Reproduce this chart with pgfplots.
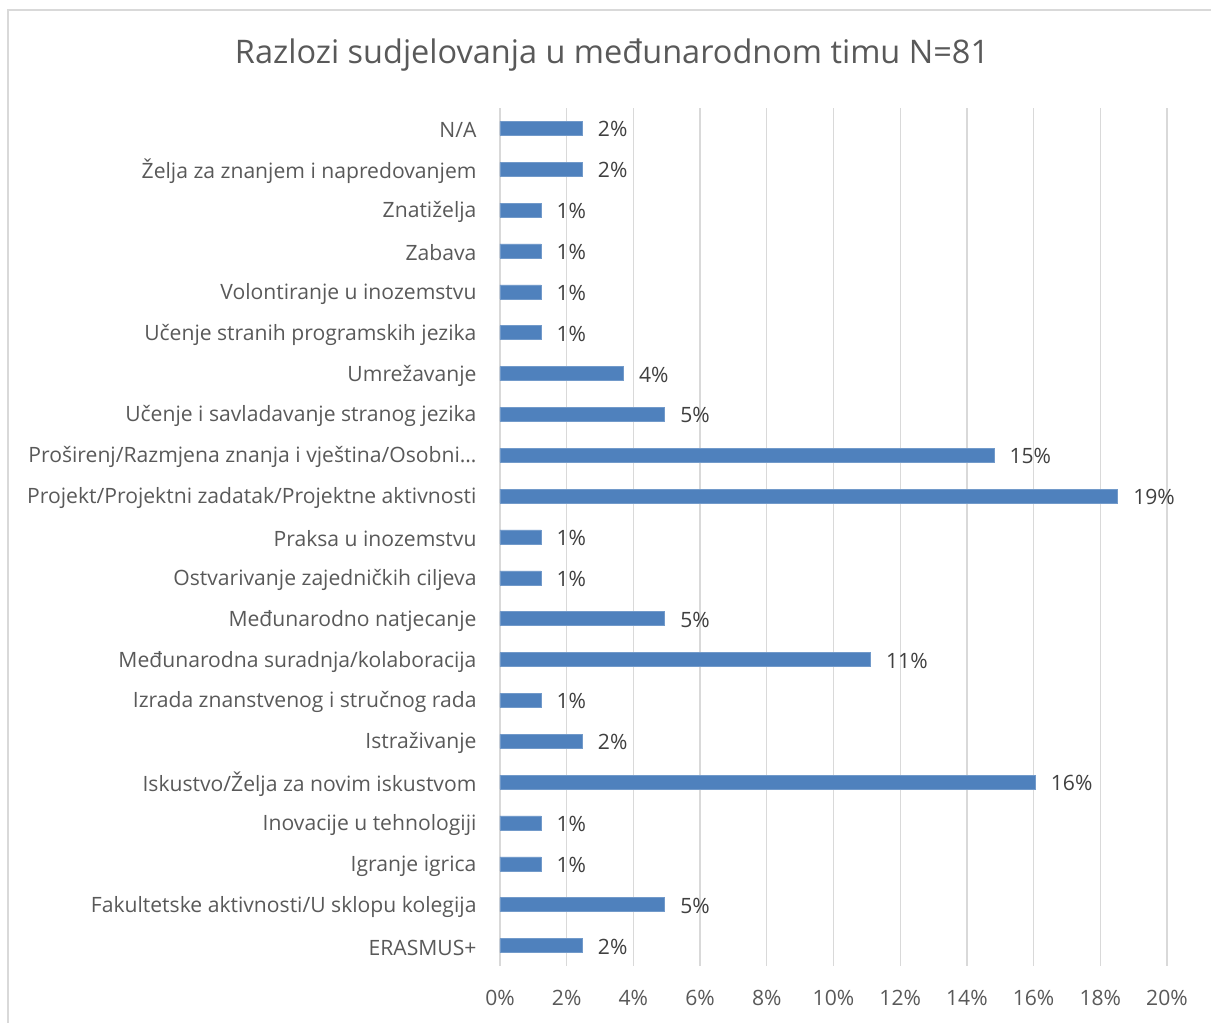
\documentclass[border=0pt]{standalone}
\usepackage{pgfplots}
\pgfplotsset{compat=1.18}
\usepackage{fontspec}
\setmainfont{Open Sans}
\definecolor{barblue}{RGB}{79,129,189}
\definecolor{txt}{RGB}{89,89,89}
\definecolor{lbl}{RGB}{64,64,64}
\definecolor{gridc}{RGB}{217,217,217}
\begin{document}
\begin{tikzpicture}[x=1bp,y=1bp]
\useasboundingbox (-500,-57) rectangle (711,966);
\draw[gridc, line width=1.5bp] (-492,-80) rectangle (730,956);
\node[txt, font=\fontsize{32.6}{38}\selectfont] at (112,911) {Razlozi sudjelovanja u međunarodnom timu N=81};
\begin{axis}[
  at={(0,0)}, anchor=south west,
  scale only axis, width=667bp, height=858bp,
  xbar, bar width=14bp,
  xmin=0, xmax=20, ymin=-0.5, ymax=20.5,
  axis line style={draw=none},
  major tick length=0pt,
  xmajorgrids, grid style={gridc, line width=1.3bp},
  xtick={0,2,...,20},
  xticklabel={\pgfmathprintnumber{\tick}\%},
  /pgf/number format/assume math mode=true,
  xticklabel style={font=\fontsize{21.2}{25}\selectfont, text=txt, yshift=-21bp},
  ytick={0,...,20},
  yticklabels={ERASMUS+, Fakultetske aktivnosti/U sklopu kolegija, Igranje igrica, Inovacije u tehnologiji, Iskustvo/Želja za novim iskustvom, Istraživanje, Izrada znanstvenog i stručnog rada, Međunarodna suradnja/kolaboracija, Međunarodno natjecanje, Ostvarivanje zajedničkih ciljeva, Praksa u inozemstvu, Projekt/Projektni zadatak/Projektne aktivnosti, Proširenj/Razmjena znanja i vještina/Osobni…, Učenje i savladavanje stranog jezika, Umrežavanje, Učenje stranih programskih jezika, Volontiranje u inozemstvu, Zabava, Znatiželja, Želja za znanjem i napredovanjem, N/A},
  yticklabel style={font=\fontsize{21.2}{25}\selectfont, text=txt, xshift=-20bp, yshift=-2bp},
  nodes near coords={\pgfmathprintnumber[fixed,precision=0]{\pgfplotspointmeta}\%},
  nodes near coords style={font=\fontsize{21.2}{25}\selectfont, text=lbl, anchor=west, xshift=12bp, yshift=-1bp},
  point meta=x,
]
\addplot[fill=barblue, draw=barblue!80!white, line width=0.6bp] coordinates {
(2.47,0) (4.94,1) (1.23,2) (1.23,3) (16.05,4) (2.47,5) (1.23,6) (11.11,7) (4.94,8) (1.23,9) (1.23,10) (18.52,11) (14.81,12) (4.94,13) (3.70,14) (1.23,15) (1.23,16) (1.23,17) (1.23,18) (2.47,19) (2.47,20)
};
\end{axis}
\end{tikzpicture}
\end{document}
